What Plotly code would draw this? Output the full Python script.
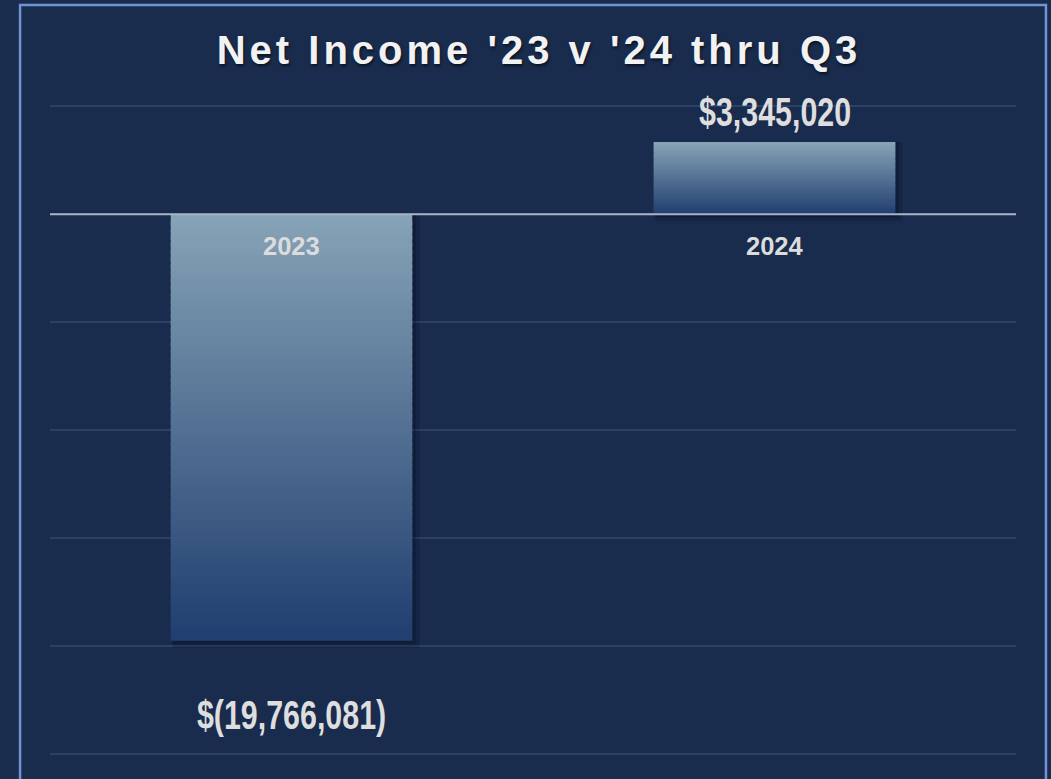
import plotly.graph_objects as go

# data
years = ["2023", "2024"]
net_income = [-19766081, 3345020]
value_labels = ["$(19,766,081)", "$3,345,020"]

BG = "#192c4e"
GRID = "#2d4166"
TOP_COL = (134, 163, 183)
BOT_COL = (33, 63, 112)
N_SEG = 60

# numeric slot for each year (avoids numeric-looking category quirks)
pos = list(range(len(years)))


def blend(t):
    # t=0 -> top colour, t=1 -> bottom colour
    r, g, b = (int(a + (b_ - a) * t) for a, b_ in zip(TOP_COL, BOT_COL))
    return f"rgb({r},{g},{b})"


fig = go.Figure()

# soft drop shadow behind the bars (two layers to fake a blur)
for ext, off, wid, col in [(330000, -0.246, 0.511, "rgba(4,10,28,0.20)"),
                           (160000, -0.248, 0.505, "rgba(4,10,28,0.28)")]:
    fig.add_trace(go.Bar(
        x=pos,
        y=[abs(v) + ext for v in net_income],
        base=[min(0, v) - ext for v in net_income],
        offset=off, width=wid,
        marker=dict(color=col, line=dict(width=0)),
        hoverinfo="skip", showlegend=False,
    ))

# gradient bars built from stacked slices of each value
for i in range(N_SEG):
    bases, heights, colors = [], [], []
    for v in net_income:
        step = v / N_SEG
        bases.append(step * i)
        heights.append(step * 1.6 if i < N_SEG - 1 else step)
        # slice 0 sits at zero: top of a negative bar, bottom of a positive one
        t = i / (N_SEG - 1)
        colors.append(blend(t if v < 0 else 1 - t))
    fig.add_trace(go.Bar(
        x=pos, y=heights, base=bases,
        marker=dict(color=colors, line=dict(width=0)),
        width=0.5, hoverinfo="skip", showlegend=False,
    ))

# value labels
for p, v, lab in zip(pos, net_income, value_labels):
    fig.add_annotation(
        x=p, y=v, text=lab, showarrow=False,
        yanchor="middle", yshift=30 if v > 0 else -74,
        font=dict(family="Liberation Sans, Arial", size=40,
                  color="#dedede", weight="bold"),
    )

# category labels just under the zero line
for p, yr in zip(pos, years):
    fig.add_annotation(
        x=p, y=0, text=yr, showarrow=False,
        yanchor="middle", yshift=-32,
        font=dict(family="Liberation Sans, Arial", size=25.5,
                  color="#dcdcdc", weight="bold"),
    )

# zero line above the bars
fig.add_shape(type="line", xref="paper", x0=0, x1=1, yref="y", y0=0, y1=0,
              line=dict(color="#a7b2c4", width=2), layer="above")

# outer frame
fig.add_shape(type="rect", xref="paper", yref="paper",
              x0=-0.031, x1=1.031, y0=-0.2, y1=1.148,
              line=dict(color="#7093d6", width=2.5), layer="above")

fig.update_layout(
    width=1051, height=779,
    paper_bgcolor=BG, plot_bgcolor=BG,
    barmode="overlay",
    margin=dict(l=50, r=35, t=102, b=21),
    title=dict(
        text="Net Income '23 v '24 thru Q3",
        x=539 / 1051, xanchor="center", y=1 - 50 / 779, yanchor="middle",
        font=dict(family="Liberation Sans, Arial", size=40, color="#f2f2f2",
                  weight="bold", shadow="1px 2px 3px rgba(0,0,0,0.6)"),
    ),
    xaxis=dict(showticklabels=False, showgrid=False, zeroline=False,
               range=[-0.5, 1.5]),
    yaxis=dict(range=[-25200000, 5200000], dtick=5000000, tick0=0,
               showticklabels=False, gridcolor=GRID, gridwidth=2,
               zeroline=False),
)

# page tweaks: no body margin, spaced title, condensed value labels
post = """
document.body.style.margin='0';
document.body.style.background='%s';
document.querySelectorAll('.gtitle').forEach(function(t){t.style.letterSpacing='4px';});
document.querySelectorAll('.annotation[data-index="0"] text, .annotation[data-index="1"] text').forEach(function(t){
  t.style.transformBox='fill-box'; t.style.transformOrigin='center'; t.style.transform='scaleX(0.76)';
});
""" % BG

fig.write_html("out.html", config={"displayModeBar": False}, post_script=post)
